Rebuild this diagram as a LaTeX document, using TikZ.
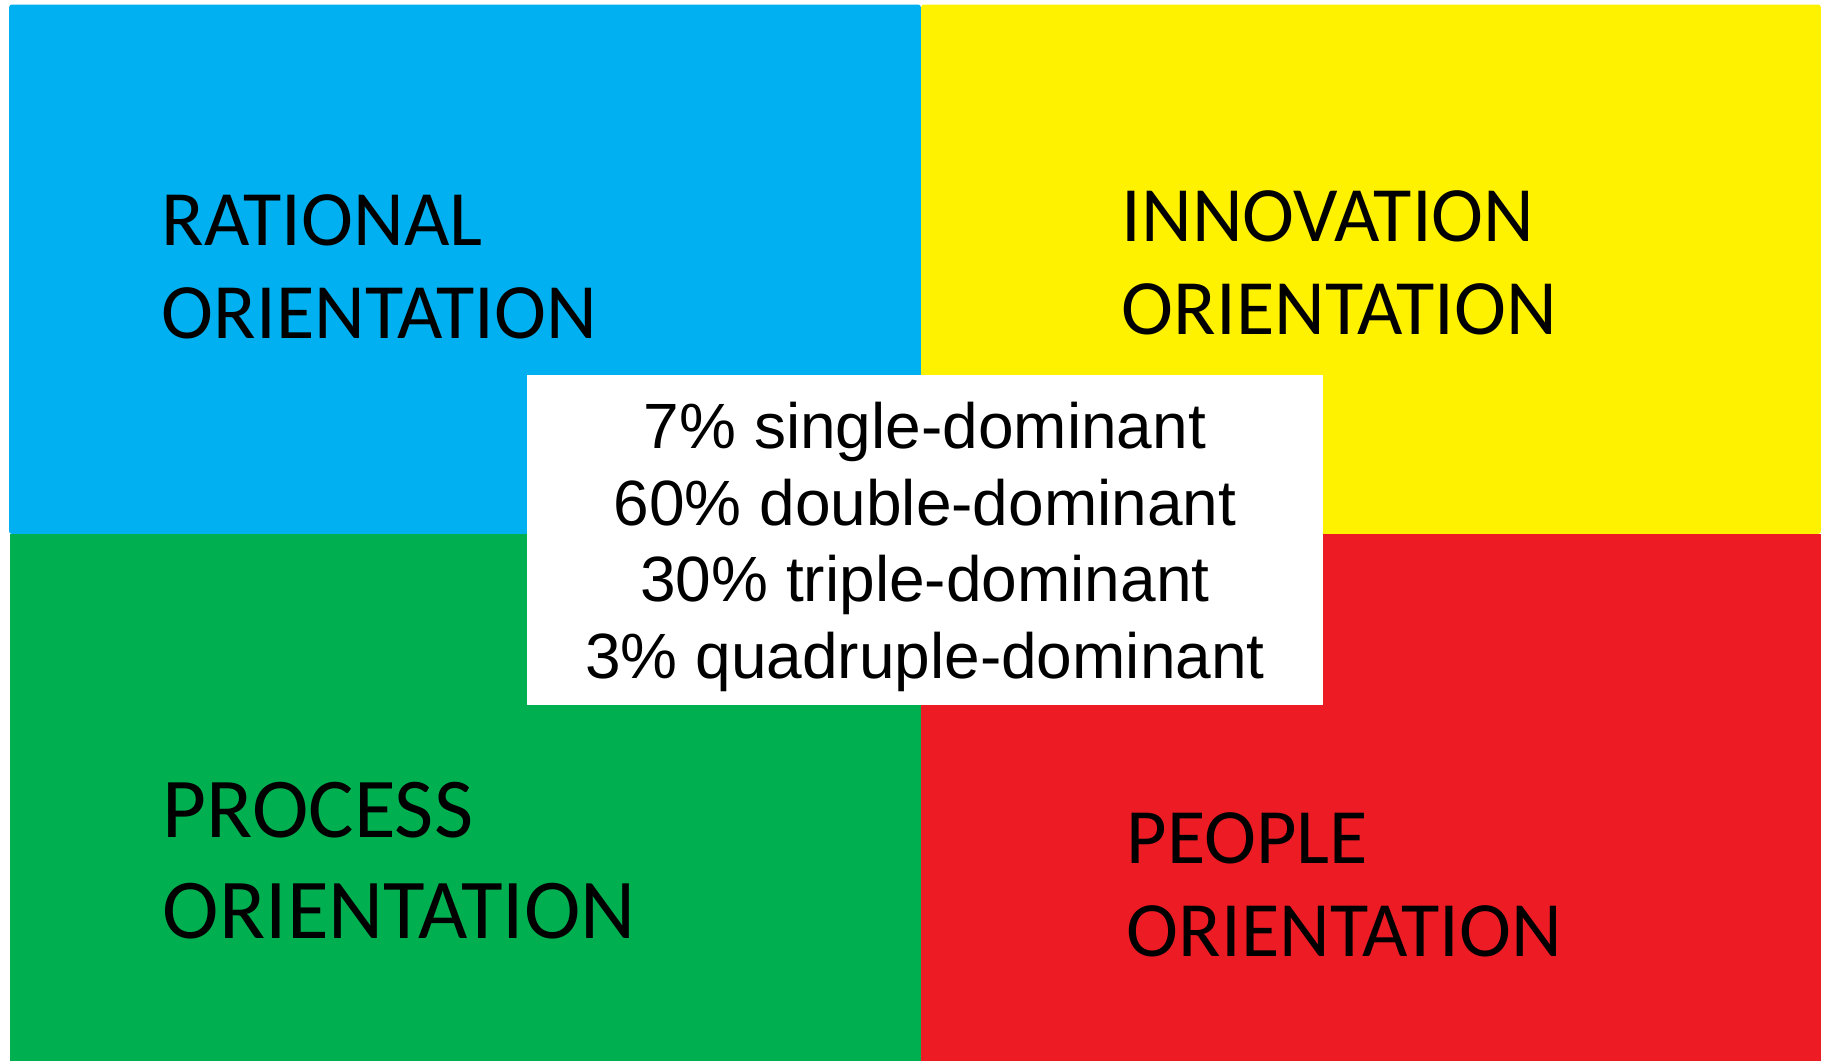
\documentclass[tikz,border=0pt]{standalone}
\usepackage{fontspec}
\setmainfont{Carlito}
\newfontfamily\sharefont{Liberation Sans}
\usepackage{xcolor}
\definecolor{ratblue}{RGB}{0,176,240}
\definecolor{innyellow}{RGB}{255,242,0}
\definecolor{procgreen}{RGB}{0,176,80}
\definecolor{peopred}{RGB}{237,28,36}
\usepackage{tikz}
\usetikzlibrary{calc}

\begin{document}
\begin{tikzpicture}[x=0.5pt,y=-0.5pt,
  orient/.style={anchor=north west,inner sep=0pt,align=left,text=black,
    font=\fontsize{39.2}{46.5}\selectfont},
  bigorient/.style={orient,font=\fontsize{42.6}{50.6}\selectfont},
  sharebox/.style={fill=white,inner sep=0pt,minimum width=398pt,minimum height=165pt},
  shares/.style={inner sep=0pt,align=center,font=\sharefont\fontsize{32}{38.35}\selectfont}]
  \path[use as bounding box,fill=white] (0,0) rectangle (1821,1061);

  % the four quadrants
  \fill[ratblue,rounded corners=1.5pt] (9,4.5) rectangle (921,534);
  \fill[innyellow,rounded corners=1.5pt] (921,4.5) rectangle (1821,534);
  \fill[procgreen] (9.5,534) rectangle (921,1061);
  \fill[peopred] (921,534) rectangle (1821,1061);

  \node[orient] (rat) at (161.5,194) {RATIONAL\\ORIENTATION};
  \node[orient] (inn) at (1121.5,190) {INNOVATION\\ORIENTATION};
  \node[bigorient] (proc) at (162.5,782) {PROCESS\\ORIENTATION};
  \node[orient] (peop) at (1126.5,812) {PEOPLE\\ORIENTATION};

  % white box in the middle
  \node[sharebox] (mix) at (925,540) {};
  \node[shares] (dom) at ([yshift=-3.5pt]mix.center)
    {7\% single-dominant\\60\% double-dominant\\30\% triple-dominant\\3\% quadruple-dominant};
\end{tikzpicture}
\end{document}
